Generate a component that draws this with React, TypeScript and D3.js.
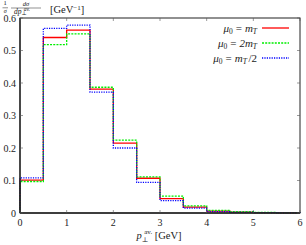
import * as d3 from "d3";

const edges = [0, 0.5, 1, 1.5, 2, 2.5, 3, 3.5, 4, 4.5, 5, 5.5, 6];
const redVals = [0.101, 0.54, 0.563, 0.381, 0.215, 0.107, 0.044, 0.018, 0.006, 0.003, 0.001, 0.0005];
const greenVals = [0.097, 0.518, 0.551, 0.387, 0.224, 0.111, 0.052, 0.022, 0.008, 0.004, 0.0015, 0.0005];
const blueVals = [0.108, 0.568, 0.578, 0.372, 0.2, 0.094, 0.038, 0.015, 0.004, 0.002, 0.001, 0.0003];
const xTicks = [0, 1, 2, 3, 4, 5, 6];
const yTicks = [0, 0.1, 0.2, 0.3, 0.4, 0.5, 0.6];

const series = [
  { name: "mT", vals: redVals, color: "#ff0000", dash: "", label: ["m", "T", ""] },
  { name: "2mT", vals: greenVals, color: "#00ee00", dash: "2,1.2", label: ["2m", "T", ""] },
  { name: "mT/2", vals: blueVals, color: "#0000ff", dash: "1.2,1.2", label: ["m", "T", "/2"] },
];

const W = 306;
const H = 245;
const left = 20;
const right = 300;
const top = 18;
const bottom = 213;
const font = "'Liberation Serif', 'DejaVu Serif', serif";

export default function App() {
  const x = d3.scaleLinear().domain([0, 6]).range([left, right]);
  const y = d3.scaleLinear().domain([0, 0.6]).range([bottom, top]);

  const step = d3
    .line<[number, number]>()
    .x((d) => x(d[0]))
    .y((d) => y(d[1]))
    .curve(d3.curveStepAfter);

  const pathFor = (vals: number[]) => {
    const pts: [number, number][] = [[0, 0]];
    vals.forEach((v, i) => pts.push([edges[i], v]));
    pts.push([6, vals[vals.length - 1]]);
    pts.push([6, 0]);
    return step(pts) ?? "";
  };

  return (
    <svg
      width={W}
      height={H}
      style={{ position: "absolute", left: 0, top: 0, background: "#fff" }}
      fontFamily={font}
    >
      {/* y label */}
      <g fill="#222">
        <text x={5} y={5.2} fontSize={6.5} textAnchor="middle">1</text>
        <line x1={2.5} x2={8} y1={7.8} y2={7.8} stroke="#222" strokeWidth={0.5} />
        <text x={5.2} y={12.8} fontSize={6} fontStyle="italic" textAnchor="middle">σ</text>
        <text x={26} y={5.5} fontSize={6.5} fontStyle="italic" textAnchor="middle">dσ</text>
        <line x1={11} x2={41} y1={8} y2={8} stroke="#222" strokeWidth={0.5} />
        <text x={14} y={13.5} fontSize={7.5} fontStyle="italic">
          dp
          <tspan fontSize={5.5} dy={1.5} fontStyle="normal">⊥</tspan>
          <tspan fontSize={5.5} dx={-3} dy={-4.5}>av.</tspan>
        </text>
        <text x={50} y={13} fontSize={10.5}>
          [GeV
          <tspan fontSize={7} dy={-3.5}>−1</tspan>
          <tspan dy={3.5}>]</tspan>
        </text>
      </g>

      {/* histograms */}
      {series.map((s) => (
        <path
          key={s.name}
          d={pathFor(s.vals)}
          fill="none"
          stroke={s.color}
          strokeWidth={1.3}
          strokeDasharray={s.dash || undefined}
        />
      ))}

      {/* frame */}
      <rect x={left} y={top} width={right - left} height={bottom - top} fill="none" stroke="#222" strokeWidth={1} />
      <line x1={left} x2={left} y1={top} y2={bottom} stroke="#222" strokeWidth={1.3} />
      <line x1={left} x2={right} y1={bottom} y2={bottom} stroke="#222" strokeWidth={1.3} />

      {/* ticks */}
      {xTicks.map((t) => (
        <g key={"x" + t}>
          <line x1={x(t)} x2={x(t)} y1={bottom} y2={bottom - 3} stroke="#555" strokeWidth={0.6} />
          <line x1={x(t)} x2={x(t)} y1={top} y2={top + 3} stroke="#555" strokeWidth={0.6} />
          <text x={x(t)} y={bottom + 13} fontSize={10} textAnchor="middle" fill="#222">{t}</text>
        </g>
      ))}
      {yTicks.map((t) => (
        <g key={"y" + t}>
          <line x1={left} x2={left + 3} y1={y(t)} y2={y(t)} stroke="#555" strokeWidth={0.6} />
          <line x1={right} x2={right - 3} y1={y(t)} y2={y(t)} stroke="#555" strokeWidth={0.6} />
          <text x={16} y={y(t) + 3.5} fontSize={10} textAnchor="end" fill="#222">
            {t === 0 ? "0" : t.toFixed(1)}
          </text>
        </g>
      ))}

      {/* x label */}
      <text x={159} y={239} fontSize={10.5} textAnchor="middle" fill="#222">
        <tspan fontStyle="italic">p</tspan>
        <tspan fontSize={7} dy={2.5}>⊥</tspan>
        <tspan fontSize={7} dx={-4} dy={-7.5}>av.</tspan>
        <tspan dy={5}> [GeV]</tspan>
      </text>

      {/* legend */}
      {series.map((s, i) => {
        const ly = 28 + i * 15;
        return (
          <g key={"l" + s.name}>
            <text x={257} y={ly + 3.5} fontSize={11} textAnchor="end" fill="#222">
              <tspan fontStyle="italic">μ</tspan>
              <tspan fontSize={7.5} dy={2}>0</tspan>
              <tspan dx={3} dy={-2}>=</tspan>
              <tspan dx={3} fontStyle="italic">{s.label[0]}</tspan>
              <tspan fontSize={7.5} fontStyle="italic" dy={2}>{s.label[1]}</tspan>
              <tspan dx={s.label[2] ? 1.5 : 0} dy={-2}>{s.label[2]}</tspan>
            </text>
            <line
              x1={262}
              x2={289}
              y1={ly}
              y2={ly}
              stroke={s.color}
              strokeWidth={1.3}
              strokeDasharray={s.dash || undefined}
            />
          </g>
        );
      })}
    </svg>
  );
}
